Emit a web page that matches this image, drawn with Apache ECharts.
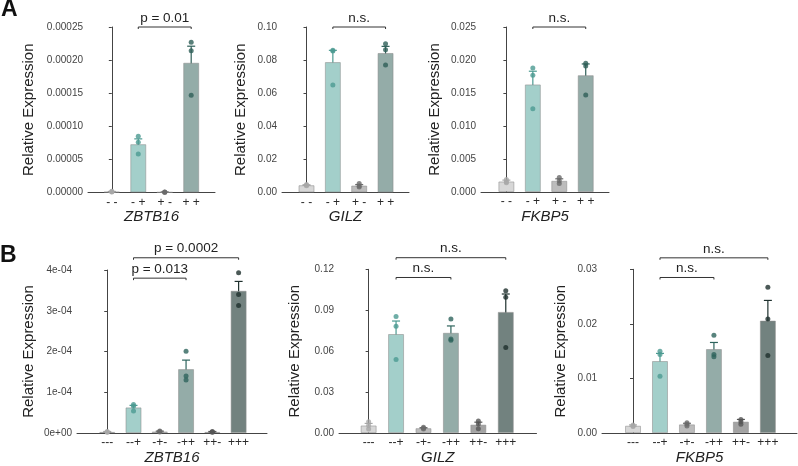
<!DOCTYPE html>
<html>
<head>
<meta charset="utf-8">
<script src="https://cdn.jsdelivr.net/npm/echarts@6/dist/echarts.min.js"></script>
<style>
    html, body {margin: 0; padding: 0; background: #fff;}
    #chart {width: 798px; height: 466px;}
</style>
</head>
<body>
<div id="chart"></div>
<script>
// categories
let catsA = ['- -', '- +', '+ -', '+ +'];
let catsB = ['---', '--+', '-+-', '-++', '++-', '+++'];

// A - ZBTB16
let zbtbAMean = [0.0000012, 0.000073, 0.0000005, 0.000196];
let zbtbALow = [0.0000008, 0.000065, 0.0000003, 0.000171];
let zbtbAHigh = [0.0000016, 0.000081, 0.0000007, 0.000221];
let zbtbAPts = [[0.0000018, 0.0000010, 0.0000008], [0.000085, 0.000076, 0.000058], [0.0000008, 0.0000005, 0.0000002], [0.000227, 0.000214, 0.000147]];
let zbtbASig = [[1, 3, 0.00025]];
let zbtbASigText = ['p = 0.01'];

// A - GILZ
let gilzAMean = [0.0044, 0.0788, 0.0042, 0.0843];
let gilzALow = [0.0041, 0.0717, 0.0036, 0.0802];
let gilzAHigh = [0.0047, 0.0859, 0.0048, 0.0883];
let gilzAPts = [[0.0048, 0.0044, 0.0041], [0.0860, 0.0855, 0.0650], [0.0055, 0.0040, 0.0033], [0.0899, 0.0863, 0.0770]];
let gilzASig = [[1, 3, 0.10]];
let gilzASigText = ['n.s.'];

// A - FKBP5
let fkbpAMean = [0.0016, 0.0163, 0.0017, 0.0177];
let fkbpALow = [0.0014, 0.0144, 0.0014, 0.0162];
let fkbpAHigh = [0.0018, 0.0183, 0.0020, 0.0194];
let fkbpAPts = [[0.0019, 0.0015, 0.0014], [0.0188, 0.0177, 0.0126], [0.0022, 0.0017, 0.0013], [0.0195, 0.0191, 0.0147]];
let fkbpASig = [[1, 3, 0.025]];
let fkbpASigText = ['n.s.'];

// B - ZBTB16
let zbtbBMean = [0.000003, 0.000063, 0.000004, 0.000157, 0.000003, 0.000349];
let zbtbBLow = [0.000002, 0.000058, 0.000003, 0.000139, 0.000002, 0.000327];
let zbtbBHigh = [0.000004, 0.000068, 0.000005, 0.000179, 0.000004, 0.000372];
let zbtbBPts = [[0.000004, 0.000003, 0.000002], [0.000070, 0.000066, 0.000054], [0.000005, 0.000004, 0.000003], [0.000201, 0.000140, 0.000130], [0.000004, 0.000003, 0.000002], [0.000393, 0.000340, 0.000313]];
let zbtbBSig = [[1, 3, 0.00038], [1, 5, 0.00043]];
let zbtbBSigText = ['p = 0.013', 'p = 0.0002'];

// B - GILZ
let gilzBMean = [0.0056, 0.0726, 0.0036, 0.0735, 0.0062, 0.0888];
let gilzBLow = [0.0041, 0.0631, 0.0032, 0.0686, 0.0044, 0.0757];
let gilzBHigh = [0.0071, 0.0821, 0.0040, 0.0785, 0.0080, 0.1019];
let gilzBPts = [[0.0083, 0.0055, 0.0030], [0.0855, 0.0783, 0.0540], [0.0043, 0.0036, 0.0030], [0.0835, 0.0690, 0.0680], [0.0088, 0.0066, 0.0032], [0.1042, 0.0996, 0.0627]];
let gilzBSig = [[1, 3, 0.114], [1, 5, 0.1285]];
let gilzBSigText = ['n.s.', 'n.s.'];

// B - FKBP5
let fkbpBMean = [0.00135, 0.0132, 0.0016, 0.0154, 0.0021, 0.0206];
let fkbpBLow = [0.0012, 0.0119, 0.0014, 0.0143, 0.0017, 0.0169];
let fkbpBHigh = [0.0015, 0.0146, 0.0018, 0.0166, 0.0025, 0.0243];
let fkbpBPts = [[0.0015, 0.0013, 0.0012], [0.0150, 0.0144, 0.0104], [0.0019, 0.0016, 0.0013], [0.0179, 0.0144, 0.0140], [0.0025, 0.0021, 0.0016], [0.0267, 0.0209, 0.0142]];
let fkbpBSig = [[1, 3, 0.0285], [1, 5, 0.0321]];
let fkbpBSigText = ['n.s.', 'n.s.'];

// colours
let barColA = ['#d7d7d7', '#a3cfca', '#bcbcbc', '#94aca8'];
let dotColA = ['#a8a8a8', '#4b9a91', '#6a6a6a', '#2e5f58'];
let barColB = ['#d7d7d7', '#a3cfca', '#bcbcbc', '#94aca8', '#a3a3a3', '#72827f'];
let dotColB = ['#a8a8a8', '#4b9a91', '#6a6a6a', '#2e645d', '#555555', '#1e302d'];

let font = 'Liberation Sans, Arial, sans-serif';
let chart = echarts.init(document.getElementById('chart'));

function sci(v) {
    if (Math.abs(v) < 1e-12) return '0e+00';
    let e = Math.floor(Math.log10(v) + 1e-9);
    let m = Math.round(v / Math.pow(10, e));
    let s = Math.abs(e) < 10 ? '0' + Math.abs(e) : '' + Math.abs(e);
    return m + 'e' + (e < 0 ? '-' : '+') + s;
}

let option = {
    animation: false,
    textStyle: {fontFamily: font},
    title: [
        {text: 'A', left: 1, top: -2, padding: 0, textStyle: {fontSize: 23, fontWeight: 'bold', color: '#111', fontFamily: font}},
        {text: 'B', left: 0, top: 244, padding: 0, textStyle: {fontSize: 23, fontWeight: 'bold', color: '#111', fontFamily: font}}
    ],
    grid: [], xAxis: [], yAxis: [], series: []
};

function addPanel(p) {
    let i = option.grid.length;
    option.grid.push(p.grid);
    option.xAxis.push({
        gridIndex: i, type: 'value', min: p.xMin, max: p.xMax,
        axisLine: {show: true, lineStyle: {color: '#444', width: 1}},
        axisTick: {show: false},
        splitLine: {show: false},
        axisLabel: {
            customValues: p.cats.map(function (c, k) { return k; }),
            formatter: function (v) { return p.cats[Math.round(v)]; },
            fontSize: 12, color: '#2a2a2a', margin: 4
        },
        name: p.gene, nameLocation: 'middle', nameGap: 7,
        nameTextStyle: {fontSize: 15, fontStyle: 'italic', color: '#222'}
    });
    option.yAxis.push({
        gridIndex: i, type: 'value', min: 0, max: p.yMax, interval: p.yStep,
        axisLine: {show: true, lineStyle: {color: '#444', width: 1}},
        axisTick: {show: true, length: 3, lineStyle: {color: '#444'}},
        splitLine: {show: false},
        axisLabel: {formatter: p.fmt, fontSize: 10, color: '#444', margin: 5},
        name: 'Relative Expression', nameLocation: 'middle', nameGap: p.nameGap,
        nameTextStyle: {fontSize: 15, color: '#222'}
    });
    option.series.push({
        type: 'bar', xAxisIndex: i, yAxisIndex: i, barWidth: 16,
        data: p.mean.map(function (v, k) {
            return {value: [k, v], itemStyle: {color: p.barCol[k], borderColor: 'rgba(140,140,140,0.55)', borderWidth: 1}};
        })
    });
    // error bars
    option.series.push({
        type: 'custom', xAxisIndex: i, yAxisIndex: i, clip: false,
        data: p.mean.map(function (v, k) { return [k, p.low[k], p.high[k]]; }),
        renderItem: function (params, api) {
            let x = api.value(0);
            let lo = api.coord([x, api.value(1)]);
            let hi = api.coord([x, api.value(2)]);
            let st = {stroke: p.dotCol[params.dataIndex], lineWidth: 1.2};
            return {type: 'group', children: [
                {type: 'line', shape: {x1: lo[0], y1: lo[1], x2: hi[0], y2: hi[1]}, style: st},
                {type: 'line', shape: {x1: hi[0] - 4, y1: hi[1], x2: hi[0] + 4, y2: hi[1]}, style: st},
                {type: 'line', shape: {x1: lo[0] - 4, y1: lo[1], x2: lo[0] + 4, y2: lo[1]}, style: st}
            ]};
        }
    });
    // replicate dots
    let dots = [];
    p.pts.forEach(function (arr, k) {
        arr.forEach(function (v) {
            dots.push({value: [k, v], itemStyle: {color: p.dotCol[k]}});
        });
    });
    option.series.push({
        type: 'scatter', xAxisIndex: i, yAxisIndex: i, symbolSize: 5, data: dots
    });
    // significance brackets
    option.series.push({
        type: 'custom', xAxisIndex: i, yAxisIndex: i, clip: false,
        data: p.sig,
        renderItem: function (params, api) {
            let a = api.coord([api.value(0), api.value(2)]);
            let b = api.coord([api.value(1), api.value(2)]);
            let st = {stroke: '#333', lineWidth: 1};
            return {type: 'group', children: [
                {type: 'polyline', shape: {points: [[a[0], a[1] + 2], [a[0], a[1]], [b[0], b[1]], [b[0], b[1] + 2]]}, style: Object.assign({fill: null}, st)},
                {type: 'text', style: {
                    text: p.sigText[params.dataIndex], x: (a[0] + b[0]) / 2, y: a[1] - 2,
                    textAlign: 'center', textVerticalAlign: 'bottom',
                    fontSize: 13.5, fontFamily: font, fill: '#222'
                }}
            ]};
        }
    });
}

addPanel({grid: {left: 88, top: 27, width: 127, height: 165.5}, xMin: -0.9, xMax: 3.9,
    yMax: 0.00025, yStep: 0.00005, fmt: function (v) { return v.toFixed(5); }, nameGap: 52,
    cats: catsA, gene: 'ZBTB16', mean: zbtbAMean, low: zbtbALow, high: zbtbAHigh, pts: zbtbAPts,
    sig: zbtbASig, sigText: zbtbASigText, barCol: barColA, dotCol: dotColA});
addPanel({grid: {left: 282, top: 27, width: 127, height: 165.5}, xMin: -0.93, xMax: 3.89,
    yMax: 0.10, yStep: 0.02, fmt: function (v) { return v.toFixed(2); }, nameGap: 34,
    cats: catsA, gene: 'GILZ', mean: gilzAMean, low: gilzALow, high: gilzAHigh, pts: gilzAPts,
    sig: gilzASig, sigText: gilzASigText, barCol: barColA, dotCol: dotColA});
addPanel({grid: {left: 481, top: 27, width: 128, height: 165}, xMin: -0.96, xMax: 3.88,
    yMax: 0.025, yStep: 0.005, fmt: function (v) { return v.toFixed(3); }, nameGap: 39,
    cats: catsA, gene: 'FKBP5', mean: fkbpAMean, low: fkbpALow, high: fkbpAHigh, pts: fkbpAPts,
    sig: fkbpASig, sigText: fkbpASigText, barCol: barColA, dotCol: dotColA});
addPanel({grid: {left: 77, top: 270, width: 190, height: 164.3}, xMin: -1.15, xMax: 6.08,
    yMax: 0.0004, yStep: 0.0001, fmt: sci, nameGap: 41,
    cats: catsB, gene: 'ZBTB16', mean: zbtbBMean, low: zbtbBLow, high: zbtbBHigh, pts: zbtbBPts,
    sig: zbtbBSig, sigText: zbtbBSigText, barCol: barColB, dotCol: dotColB});
addPanel({grid: {left: 339, top: 269.3, width: 197.5, height: 165}, xMin: -1.08, xMax: 6.12,
    yMax: 0.12, yStep: 0.03, fmt: function (v) { return v.toFixed(2); }, nameGap: 37,
    cats: catsB, gene: 'GILZ', mean: gilzBMean, low: gilzBLow, high: gilzBHigh, pts: gilzBPts,
    sig: gilzBSig, sigText: gilzBSigText, barCol: barColB, dotCol: dotColB});
addPanel({grid: {left: 602, top: 269.3, width: 195, height: 164.7}, xMin: -1.15, xMax: 6.08,
    yMax: 0.03, yStep: 0.01, fmt: function (v) { return v.toFixed(2); }, nameGap: 34,
    cats: catsB, gene: 'FKBP5', mean: fkbpBMean, low: fkbpBLow, high: fkbpBHigh, pts: fkbpBPts,
    sig: fkbpBSig, sigText: fkbpBSigText, barCol: barColB, dotCol: dotColB});

chart.setOption(option);
window.addEventListener('resize', function () { chart.resize(); });
</script>
</body>
</html>
